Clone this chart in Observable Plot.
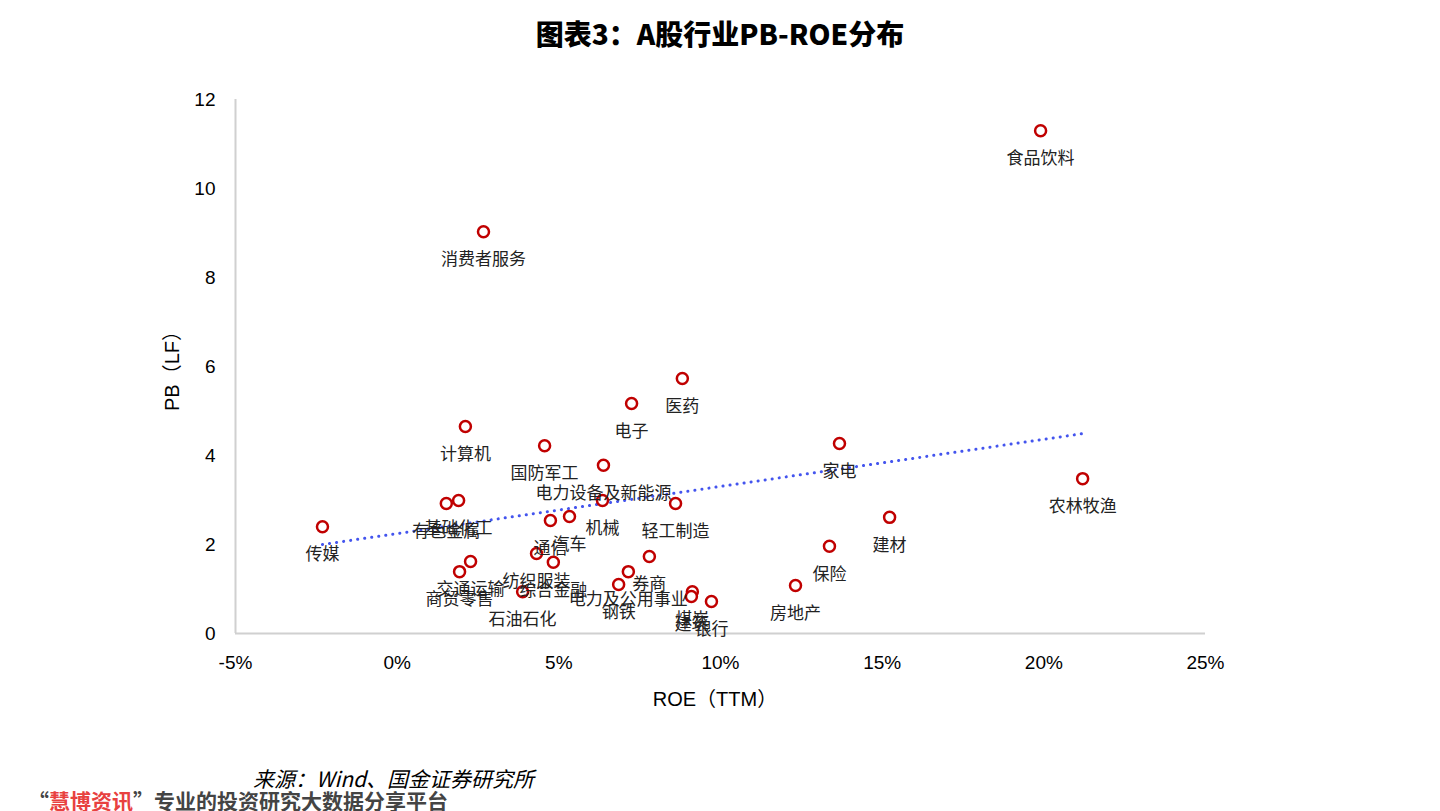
<!DOCTYPE html>
<html>
<head>
<meta charset="utf-8">
<script src="https://cdn.jsdelivr.net/npm/d3@7"></script>
<script src="https://cdn.jsdelivr.net/npm/@observablehq/plot@0.6"></script>
<style>
  html, body { margin: 0; padding: 0; background: #fff; width: 1440px; height: 811px; overflow: hidden; position: relative; }
  .t { position: absolute; white-space: nowrap; font-family: "Liberation Sans", "Noto Sans CJK SC", sans-serif; }
  #chart { position: absolute; left: 0; top: 0; }
</style>
</head>
<body>
<div id="chart"></div>
<div class="t" id="title" style="left:0; width:1440px; top:13px; text-align:center; font-weight:900; font-size:28px; font-family:'Noto Sans CJK SC', sans-serif; color:#000;">图表3：A股行业PB-ROE分布</div>
<div class="t" id="ylab" style="left:170px; top:366px; transform: translate(-50%,-50%) rotate(-90deg); font-size:20px; color:#000;">PB（LF）</div>
<div class="t" id="xlab" style="left:715px; top:697px; transform: translate(-50%,-50%); font-size:20px; color:#000;">ROE（TTM）</div>
<div class="t" id="src" style="left:253px; top:763px; font-size:21px; font-style:italic; font-family:'Noto Sans CJK SC', sans-serif; color:#000;">来源：Wind、国金证券研究所</div>
<div class="t" id="wm" style="left:28px; top:785px; font-size:21px; font-weight:bold; font-family:'Noto Sans CJK SC', sans-serif; color:#444;">“<span style="color:#e8413f;">慧博资讯</span>”专业的投资研究大数据分享平台</div>
<script>
// ---- data ----
const industries = ["食品饮料","消费者服务","医药","电子","计算机","国防军工","家电","电力设备及新能源","农林牧渔","有色金属","基础化工","机械","轻工制造","通信","汽车","建材","传媒","保险","纺织服装","综合金融","券商","交通运输","商贸零售","电力及公用事业","钢铁","房地产","石油石化","煤炭","建筑","银行"];
const roe = [19.90, 2.67, 8.82, 7.25, 2.11, 4.56, 13.68, 6.38, 21.20, 1.52, 1.90, 6.35, 8.61, 4.74, 5.33, 15.23, -2.31, 13.37, 4.31, 4.83, 7.80, 2.27, 1.93, 7.15, 6.85, 12.32, 3.88, 9.13, 9.10, 9.72];
const pb  = [11.30, 9.03, 5.73, 5.17, 4.65, 4.22, 4.27, 3.78, 3.48, 2.92, 2.99, 2.99, 2.92, 2.54, 2.63, 2.61, 2.40, 1.96, 1.80, 1.60, 1.73, 1.62, 1.39, 1.39, 1.10, 1.08, 0.94, 0.94, 0.83, 0.72];
const xTicks = [-5, 0, 5, 10, 15, 20, 25];
const yTicks = [0, 2, 4, 6, 8, 10, 12];

const data = industries.map((name, i) => ({name, roe: roe[i], pb: pb[i]}));

const chart = Plot.plot({
  width: 1440,
  height: 740,
  marginLeft: 235,
  marginRight: 235,
  marginTop: 99,
  marginBottom: 107,
  style: {fontFamily: "'Liberation Sans', 'Noto Sans CJK SC', sans-serif", background: "transparent", color: "#000"},
  x: {domain: [-5, 25]},
  y: {domain: [0, 12]},
  marks: [
    Plot.axisX({ticks: xTicks, tickSize: 0, tickPadding: 22, tickFormat: d => d + "%", label: null, fontSize: 19, fill: "#000"}),
    Plot.axisY({ticks: yTicks, tickSize: 0, tickPadding: 20, label: null, fontSize: 19, fill: "#000"}),
    Plot.ruleY([0], {stroke: "#d0d0d0", strokeWidth: 2}),
    Plot.ruleX([-5], {stroke: "#d0d0d0", strokeWidth: 2}),
    Plot.linearRegressionY(data, {x: "roe", y: "pb", ci: 0, stroke: "#4455ee", strokeWidth: 3, strokeDasharray: "0.1 7", strokeLinecap: "round"}),
    Plot.dot(data, {x: "roe", y: "pb", r: 5.5, stroke: "#c00000", strokeWidth: 2.5, fill: "white"}),
    Plot.text(data, {x: "roe", y: "pb", text: "name", dy: 28, fontSize: 17, fill: "#222", fontFamily: "'Noto Sans CJK SC', sans-serif"})
  ]
});
document.getElementById("chart").appendChild(chart);
</script>
</body>
</html>
